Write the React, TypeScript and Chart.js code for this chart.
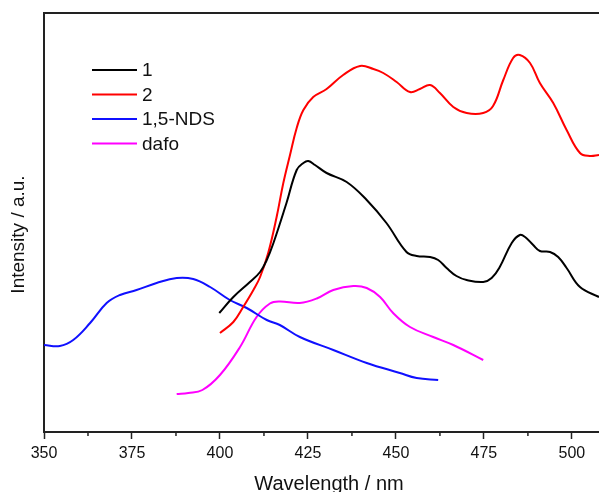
import React, { useEffect, useRef } from "react";
import { Chart, registerables } from "chart.js";

Chart.register(...registerables);

// ---- data ----
const xTicks = [350, 375, 400, 425, 450, 475, 500];
const xMinorTicks = [362.5, 387.5, 412.5, 437.5, 462.5, 487.5];
const xMin = 350;
const xMax = 507.7;
const yMin = 0;
const yMax = 419;
const xTitle = "Wavelength / nm";
const yTitle = "Intensity / a.u.";

const seriesNames = ["1", "2", "1,5-NDS", "dafo"];
const seriesColors = ["#000000", "#ff0000", "#1010ff", "#ff00ff"];

const wl1 = [399.8, 403.8, 408.5, 411.4, 413.3, 415.2, 418.9, 421.8, 423.7, 425.1, 427, 430.3, 436, 441.7, 447.3, 453, 455.9, 459.7, 462, 464.4, 467.2, 470.1, 474.8, 477.2, 479.5, 482.9, 485.2, 486.7, 489, 490.9, 493.8, 496.1, 498.5, 502.3, 507.7];
const int1 = [119, 135, 150, 160, 172, 189, 229, 262, 269, 271, 267, 259, 250, 232, 209, 180, 176, 175, 172, 164, 156, 152, 150, 154, 165, 189, 197, 195, 187, 181, 180, 175, 164, 145, 135];

const wl2 = [400, 403.8, 406.6, 409.5, 411.4, 413.7, 416.1, 418, 419.9, 421.8, 423.7, 426.5, 430.3, 435, 439.8, 443.6, 446.4, 450.2, 454, 456.8, 459.7, 462.5, 466.3, 470.1, 474.8, 477.6, 480.5, 483.3, 485.2, 488.1, 490.9, 494.7, 498.5, 502.3, 505.1, 507.7];
const int2 = [99, 110, 125, 142, 155, 179, 215, 249, 277, 304, 322, 335, 343, 357, 366, 363, 359, 350, 340, 343, 347, 339, 325, 319, 319, 326, 352, 374, 377, 369, 349, 329, 302, 279, 276, 277];

const wlNDS = [350, 354.5, 358.3, 363.1, 367.8, 371.6, 376.3, 382, 387.7, 392.4, 397.2, 402.8, 407.6, 413.3, 417, 422.7, 432.2, 441.7, 451.1, 455.9, 462];
const intNDS = [87, 86, 92, 109, 129, 137, 142, 149, 154, 153, 145, 132, 124, 112, 107, 95, 82, 69, 59, 54, 52];

const wlDafo = [387.7, 391, 395, 400, 405.7, 410.4, 414.2, 417, 422.7, 427.5, 432.2, 437.9, 441.7, 445.5, 449.2, 454, 460.6, 466.3, 474.8];
const intDafo = [38, 39, 42, 57, 85, 115, 128.5, 130.5, 129, 133.5, 142, 146, 144, 135, 119, 105, 95, 87, 72];

const seriesX = [wl1, wl2, wlNDS, wlDafo];
const seriesY = [int1, int2, intNDS, intDafo];

const FONT = "'Liberation Sans', Arial, sans-serif";

const decorPlugin = {
  id: "decor",
  afterDraw(chart: any) {
    const { ctx, chartArea, scales } = chart;
    const x = scales.x;
    ctx.save();
    // top frame line
    ctx.strokeStyle = "#222";
    ctx.lineWidth = 2;
    ctx.beginPath();
    ctx.moveTo(chartArea.left - 1, chartArea.top);
    ctx.lineTo(chartArea.right, chartArea.top);
    ctx.stroke();
    // minor ticks
    ctx.lineWidth = 1.5;
    xMinorTicks.forEach((v) => {
      const px = x.getPixelForValue(v);
      ctx.beginPath();
      ctx.moveTo(px, chartArea.bottom);
      ctx.lineTo(px, chartArea.bottom + 4);
      ctx.stroke();
    });
    // axis titles
    ctx.fillStyle = "#111";
    ctx.textAlign = "center";
    ctx.textBaseline = "alphabetic";
    ctx.font = `20px ${FONT}`;
    ctx.fillText(xTitle, 329, 490);
    ctx.save();
    ctx.translate(24, 234.5);
    ctx.rotate(-Math.PI / 2);
    ctx.font = `19px ${FONT}`;
    ctx.fillText(yTitle, 0, 0);
    ctx.restore();
    // legend
    const rows = [70, 94.5, 119, 143.5];
    ctx.textAlign = "left";
    ctx.textBaseline = "middle";
    ctx.font = `19px ${FONT}`;
    chart.data.datasets.forEach((ds: any, i: number) => {
      const y = rows[i];
      ctx.strokeStyle = ds.borderColor;
      ctx.lineWidth = 2;
      ctx.beginPath();
      ctx.moveTo(92, y);
      ctx.lineTo(137, y);
      ctx.stroke();
      ctx.fillStyle = "#111";
      ctx.fillText(ds.label, 142, y + 1);
    });
    ctx.restore();
  },
};

export default function App() {
  const ref = useRef<HTMLCanvasElement | null>(null);
  useEffect(() => {
    if (!ref.current) return;
    const chart = new Chart(ref.current, {
      type: "line",
      data: {
        datasets: seriesNames.map((name, i) => ({
          label: name,
          data: seriesX[i].map((xv, j) => ({ x: xv, y: seriesY[i][j] })),
          borderColor: seriesColors[i],
          backgroundColor: seriesColors[i],
          borderWidth: 2,
          pointRadius: 0,
          fill: false,
          tension: 0.4,
        })),
      },
      options: {
        animation: false,
        responsive: false,
        devicePixelRatio: 1,
        layout: { padding: { top: 13, left: 0, right: 0, bottom: 0 } },
        plugins: {
          legend: { display: false },
          tooltip: { enabled: false },
        },
        scales: {
          x: {
            type: "linear",
            min: xMin,
            max: xMax,
            afterFit: (s: any) => {
              s.height = 60;
            },
            afterBuildTicks: (s: any) => {
              s.ticks = xTicks.map((v) => ({ value: v }));
            },
            grid: {
              display: true,
              drawOnChartArea: false,
              drawTicks: true,
              tickLength: 7,
              tickColor: "#222",
              tickWidth: 1.5,
            },
            border: { display: true, color: "#222", width: 2 },
            ticks: {
              color: "#111",
              padding: 5,
              maxRotation: 0,
              autoSkip: false,
              font: { family: FONT, size: 16 },
            },
          },
          y: {
            type: "linear",
            min: yMin,
            max: yMax,
            afterFit: (s: any) => {
              s.width = 44;
            },
            grid: { display: false },
            border: { display: true, color: "#222", width: 2 },
            ticks: { display: false },
          },
        },
      },
      plugins: [decorPlugin],
    });
    return () => chart.destroy();
  }, []);
  return (
    <div style={{ position: "absolute", left: 0, top: 0, width: 599, height: 492, background: "#fff" }}>
      <canvas ref={ref} width={599} height={492} style={{ display: "block" }} />
    </div>
  );
}
